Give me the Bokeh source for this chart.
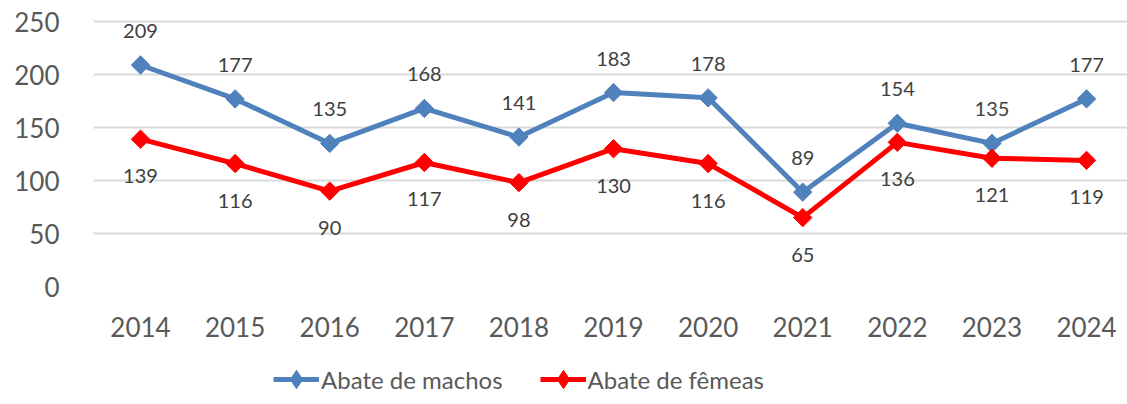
import math
from bokeh.plotting import figure
from bokeh.layouts import column
from bokeh.models import Range1d, Legend, LegendItem, ColumnDataSource, FixedTicker
from bokeh.core.properties import value
from bokeh.embed import file_html
from bokeh.resources import INLINE

years = [2014, 2015, 2016, 2017, 2018, 2019, 2020, 2021, 2022, 2023, 2024]
machos = [209, 177, 135, 168, 141, 183, 178, 89, 154, 135, 177]
femeas = [139, 116, 90, 117, 98, 130, 116, 65, 136, 121, 119]
series_names = ["Abate de machos", "Abate de fêmeas"]
y_ticks = [0, 50, 100, 150, 200, 250]

FONT = "Lato"
BLUE = "#4F81BD"
RED = "#FF0000"

src_m = ColumnDataSource(dict(x=years, y=machos, t=[str(v) for v in machos]))
src_f = ColumnDataSource(dict(x=years, y=femeas, t=[str(v) for v in femeas]))

# ---- main chart ----
p = figure(width=1127, height=350, output_backend="svg", toolbar_location=None,
           x_range=Range1d(2013.503, 2024.433), y_range=Range1d(0, 262.3),
           min_border_left=93, min_border_right=0, min_border_top=8,
           min_border_bottom=64)
p.outline_line_color = None
p.background_fill_color = "white"
p.border_fill_color = "white"

p.line("x", "y", source=src_m, line_color=BLUE, line_width=5)
p.scatter("x", "y", source=src_m, marker="square", angle=math.pi / 4,
          size=13, fill_color=BLUE, line_color=BLUE)
p.line("x", "y", source=src_f, line_color=RED, line_width=5)
p.scatter("x", "y", source=src_f, marker="square", angle=math.pi / 4,
          size=13, fill_color=RED, line_color=RED)

p.text("x", "y", text="t", source=src_m, y_offset=-34, text_align="center",
       text_baseline="middle", text_font=value(FONT), text_font_size="20px",
       text_color="#404040")
p.text("x", "y", text="t", source=src_f, y_offset=37, text_align="center",
       text_baseline="middle", text_font=value(FONT), text_font_size="20px",
       text_color="#404040")

p.xaxis.ticker = FixedTicker(ticks=years)
p.yaxis.ticker = FixedTicker(ticks=y_ticks)
for ax in (p.xaxis, p.yaxis):
    ax.axis_line_color = None
    ax.major_tick_line_color = None
    ax.minor_tick_line_color = None
    ax.major_label_text_font = FONT
    ax.major_label_text_font_size = "26px"
    ax.major_label_text_color = "#595959"
p.xaxis.major_label_standoff = 24
p.yaxis.major_label_standoff = 28

p.xgrid.grid_line_color = None
p.ygrid.grid_line_color = "#D9D9D9"
p.ygrid.grid_line_width = 2

# ---- legend strip ----
lp = figure(width=1127, height=54, output_backend="svg", toolbar_location=None,
            x_range=Range1d(-10, -9), y_range=Range1d(-10, -9),
            x_axis_type=None, y_axis_type=None, min_border=0)
lp.outline_line_color = None
lp.grid.grid_line_color = None
lp.background_fill_color = "white"
lp.border_fill_color = "white"

lm = lp.line("x", "y", source=src_m, line_color=BLUE, line_width=5)
sm = lp.scatter("x", "y", source=src_m, marker="diamond", size=18,
                fill_color=BLUE, line_color=BLUE)
lf = lp.line("x", "y", source=src_f, line_color=RED, line_width=5)
sf = lp.scatter("x", "y", source=src_f, marker="diamond", size=18,
                fill_color=RED, line_color=RED)

legend = Legend(items=[LegendItem(label=series_names[0], renderers=[lm, sm]),
                       LegendItem(label=series_names[1], renderers=[lf, sf])],
                orientation="horizontal", location=(180, 2))
legend.label_text_font = FONT
legend.label_text_font_size = "24px"
legend.label_text_color = "#595959"
legend.glyph_width = 46
legend.glyph_height = 46
legend.label_height = 46
legend.spacing = 37
legend.label_standoff = 2
legend.border_line_color = None
legend.background_fill_alpha = 0
legend.margin = 0
legend.padding = 2
lp.add_layout(legend, "center")

open("out.html", "w").write(file_html(column(p, lp, spacing=0), INLINE))
